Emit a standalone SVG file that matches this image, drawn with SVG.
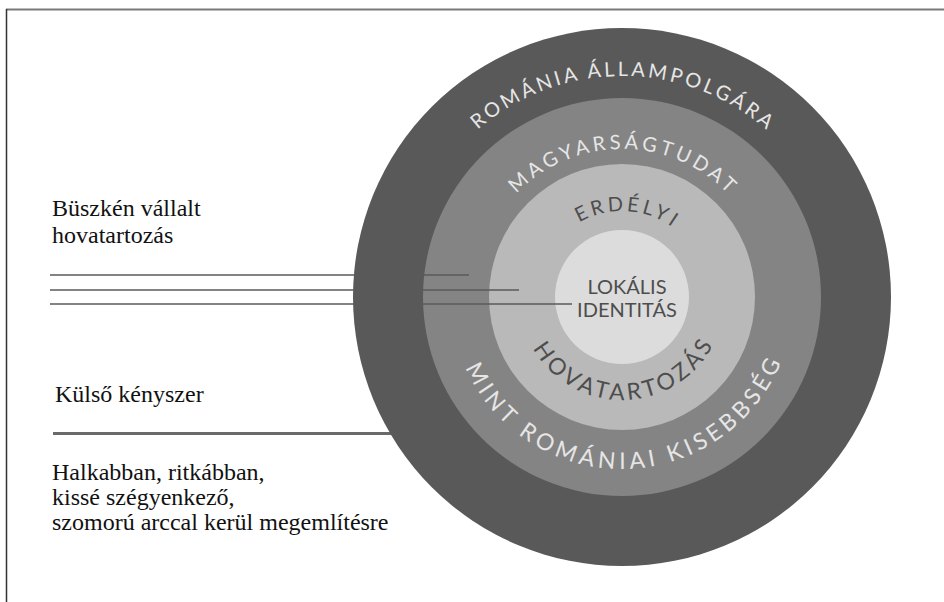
<svg xmlns="http://www.w3.org/2000/svg" xmlns:xlink="http://www.w3.org/1999/xlink" width="944" height="602" viewBox="0 0 944 602">
  <style>
    .ring { font-family: Lato, "Liberation Sans", sans-serif; }
    .light { fill: #e6e6e6; }
    .dark { fill: #4d4d4d; }
    .rule { stroke: #5a5a5a; stroke-width: 1.6; fill: none; }
    .label { font-family: "Times New Roman", "Liberation Serif", "Nimbus Roman", "Nimbus Roman No9 L", FreeSerif, "Noto Serif", "DejaVu Serif", Georgia, serif; font-size: 24px; fill: #111; }
  </style>
  <defs>
    <!-- top arcs: left to right over the top -->
    <path id="arc-outer" d="M 401 297 A 221 221 0 0 1 843 297"/>
    <path id="arc-mid" d="M 474 297 A 148 148 0 0 1 770 297"/>
    <path id="arc-inner" d="M 536 297 A 86 86 0 0 1 708 297"/>
    <!-- bottom arcs: left to right under the bottom -->
    <path id="arc-mid-b" d="M 450 297 A 172 172 0 0 0 794 297"/>
    <path id="arc-inner-b" d="M 519 297 A 103 103 0 0 0 725 297"/>
  </defs>

  <!-- frame -->
  <line x1="6" y1="9.5" x2="944" y2="9.5" stroke="#7a7a7a" stroke-width="2"/>
  <line x1="6.5" y1="9" x2="6.5" y2="602" stroke="#333" stroke-width="1.5"/>

  <!-- lead line under the circle -->
  <g id="connectors-back">
    <line x1="53" y1="433.5" x2="400" y2="433.5" stroke="#6a6a6a" stroke-width="3"/>
  </g>

  <g id="ring-citizen">
    <circle cx="622" cy="297" r="269" fill="#595959"/>
    <text class="ring light" font-size="20"><textPath xlink:href="#arc-outer" startOffset="50%" text-anchor="middle" textLength="315" lengthAdjust="spacing">ROMÁNIA ÁLLAMPOLGÁRA</textPath></text>
  </g>
  <g id="ring-hungarian">
    <circle cx="622" cy="297" r="199" fill="#848484"/>
    <text class="ring light" font-size="20"><textPath xlink:href="#arc-mid" startOffset="50%" text-anchor="middle" textLength="236" lengthAdjust="spacing">MAGYARSÁGTUDAT</textPath></text>
    <text class="ring light" font-size="23"><textPath xlink:href="#arc-mid-b" startOffset="50.5%" text-anchor="middle" textLength="400" lengthAdjust="spacing">MINT ROMÁNIAI KISEBBSÉG</textPath></text>
  </g>
  <g id="ring-transylvanian">
    <circle cx="622" cy="297" r="133" fill="#b9b9b9"/>
    <text class="ring dark" font-size="20"><textPath xlink:href="#arc-inner" startOffset="51.5%" text-anchor="middle" textLength="98" lengthAdjust="spacing">ERDÉLYI</textPath></text>
    <text class="ring dark" font-size="23"><textPath xlink:href="#arc-inner-b" startOffset="50.5%" text-anchor="middle" textLength="219" lengthAdjust="spacing">HOVATARTOZÁS</textPath></text>
  </g>
  <g id="core-local">
    <circle cx="622" cy="297" r="67" fill="#dcdcdc"/>
    <text class="ring dark" font-size="20" text-anchor="middle"><tspan x="627" y="294">LOKÁLIS</tspan><tspan x="627" y="317">IDENTITÁS</tspan></text>
  </g>

  <!-- reach lines into the rings -->
  <g id="connectors">
    <line class="rule" x1="50" y1="275" x2="469" y2="275"/>
    <line class="rule" x1="50" y1="290" x2="519" y2="290"/>
    <line class="rule" x1="50" y1="304" x2="572" y2="304"/>
  </g>

  <g id="label-proud">
    <text class="label" x="52" y="216">Büszkén vállalt</text>
    <text class="label" x="52" y="243">hovatartozás</text>
  </g>
  <g id="label-pressure">
    <text class="label" x="55" y="402">Külső kényszer</text>
  </g>
  <g id="label-quiet">
    <text class="label" x="52" y="480">Halkabban, ritkábban,</text>
    <text class="label" x="52" y="505">kissé szégyenkező,</text>
    <text class="label" x="52" y="530">szomorú arccal kerül megemlítésre</text>
  </g>
</svg>
